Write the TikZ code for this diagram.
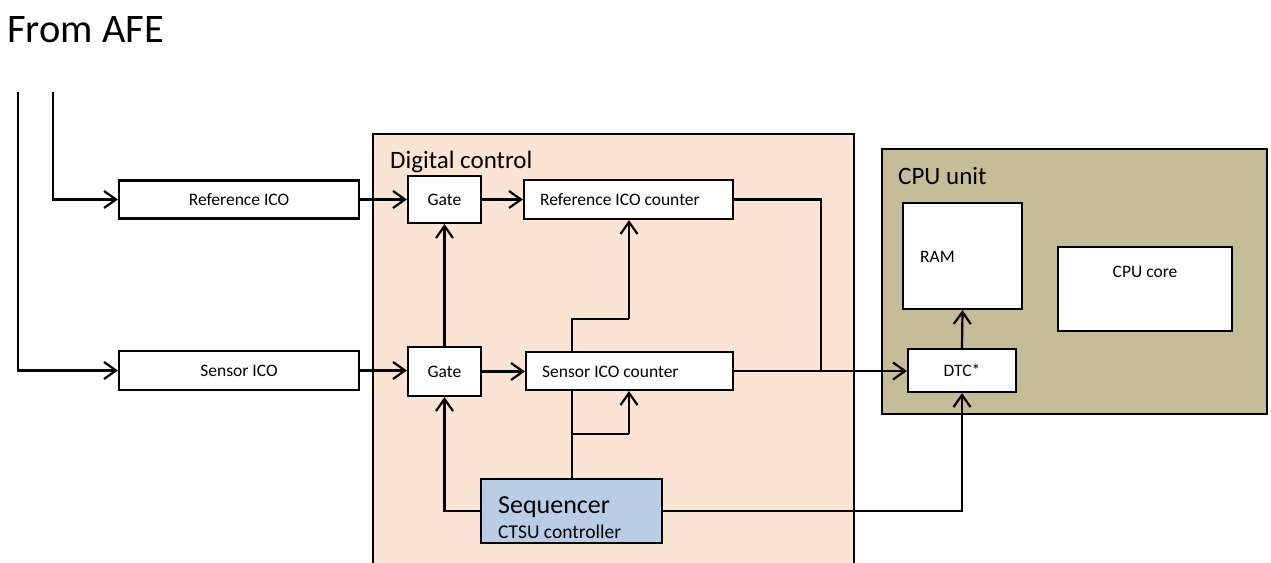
\documentclass[tikz,border=0pt]{standalone}
\usepackage{fontspec}
\setmainfont{Carlito}
\usetikzlibrary{arrows.meta}
\definecolor{dcfill}{HTML}{FCE4D4}
\definecolor{cpufill}{HTML}{C4BD97}
\definecolor{seqfill}{HTML}{B9CDE5}
\newcommand{\fs}[1]{\fontsize{#1}{#1}\selectfont}
\tikzset{
  wire/.style={line width=2.2pt, line join=miter},
  sig/.style={wire, -{Straight Barb[length=12pt,width=17pt,line width=2.2pt]}},
  blk/.style={draw, fill=white, line width=2.2pt, inner sep=0pt, font=\fs{17.5}},
  area/.style={draw, line width=2.2pt},
  title/.style={font=\fs{25}, anchor=base west, inner sep=0pt},
  lbl/.style={font=\fs{17.5}, anchor=west, inner sep=0pt},
}
\begin{document}
\begin{tikzpicture}[x=1pt, y=-1pt]
\clip (0,0) rectangle (1271,562);
\useasboundingbox (0,0) rectangle (1271,562);
\fill[white] (0,0) rectangle (1271,562);

% heading
\node[font=\fs{40.5}, anchor=base west, inner sep=0pt] (afe) at (7,42) {From AFE};

% enclosing regions
\draw[area, fill=dcfill] (373,600) -- (373,134) -- (854,134) -- (854,600);
\node[title] (dctitle) at (390,168) {Digital control};
\draw[area, fill=cpufill] (882,149) rectangle (1267,414);
\node[title] (cputitle) at (898,184) {CPU unit};

% analog front-end blocks
\node[blk, minimum width=240pt, minimum height=38pt] (refico) at (239,199.5) {Reference ICO};
\node[blk, minimum width=240pt, minimum height=39pt] (senico) at (239,370.5) {Sensor ICO};

% digital control blocks
\node[blk, minimum width=73pt, minimum height=47pt] (gate1) at (444.5,199.5) {Gate};
\node[blk, minimum width=73pt, minimum height=49pt] (gate2) at (444.5,371.5) {Gate};

% sequencer wiring to the counters (runs behind the sensor counter)
\coordinate (sq1) at (572,479);
\coordinate (sq2) at (572,319);
\coordinate (sq3) at (629,319);
\coordinate (br1) at (572,434);
\coordinate (br2) at (629,434);

\node[blk, minimum width=209pt, minimum height=39pt] (refcnt) at (628.5,199.5) {};
\node[lbl] (refcntlbl) at (540,200) {Reference ICO counter};

\draw[wire] (sq1) -- (sq2) -- (sq3);
\draw[sig] (sq3) -- (sq3 |- refcnt.south);

\node[blk, minimum width=207pt, minimum height=38pt] (sencnt) at (629.5,371) {};
\node[lbl] (sencntlbl) at (542,371.5) {Sensor ICO counter};

\draw[wire] (br1) -- (br2);
\draw[sig] (br2) -- (br2 |- sencnt.south);

\node[blk, fill=seqfill, minimum width=181pt, minimum height=64pt] (seq) at (571.5,511) {};
\node[font=\fs{26}, anchor=base west, inner sep=0pt] (seqname) at (498,513) {Sequencer};
\node[font=\fs{19.5}, anchor=base west, inner sep=0pt] (seqsub) at (498,538) {CTSU controller};

% CPU unit blocks
\node[blk, minimum width=119pt, minimum height=106pt] (ram) at (962.5,256) {};
\node[lbl] (ramlbl) at (920,257) {RAM};
\node[blk, minimum width=174pt, minimum height=84pt] (core) at (1145,289) {};
\node[font=\fs{17.5}, inner sep=0pt] (corelbl) at (1145,272) {CPU core};
\node[blk, minimum width=108pt, minimum height=43pt] (dtc) at (962,370.5) {DTC*};

% inputs from the AFE
\coordinate (in1) at (18,92);
\coordinate (in2) at (53,92);
\draw[sig] (in2) |- (refico.west);
\draw[sig] (in1) |- (senico.west);

% signal paths
\draw[sig] (refico.east) -- (gate1.west);
\draw[sig] (senico.east) -- (senico.east -| gate2.west);
\draw[sig] (gate1.east) -- (refcnt.west);
\draw[sig] (gate2.east) -- (gate2.east -| sencnt.west);
\draw[sig] (gate2.north) -- (gate1.south);
\draw[sig] (seq.west) -| (gate2.south);
\coordinate (join) at (821,371);
\draw[wire] (refcnt.east) -| (join);
\draw[sig] (sencnt.east) -- (sencnt.east -| dtc.west);
\draw[sig] (seq.east) -| (dtc.south);
\draw[sig] (dtc.north) -- (ram.south);
\end{tikzpicture}
\end{document}
